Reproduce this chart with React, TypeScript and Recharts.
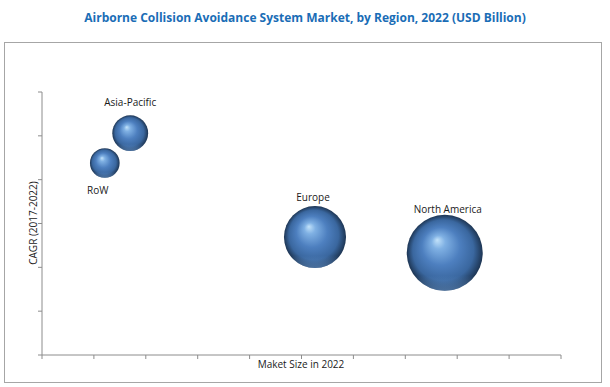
import React from 'react';
import { ScatterChart, Scatter, XAxis, YAxis, ZAxis } from 'recharts';

const regions = ['North America', 'Europe', 'Asia-Pacific', 'RoW'];
const marketSize = [7.76, 5.26, 1.7, 1.21];
const cagr = [2.33, 2.69, 5.06, 4.38];
const bubbleSize = [1.44, 0.96, 0.32, 0.22];
const xTicks = [0, 1, 2, 3, 4, 5, 6, 7, 8, 9, 10];
const yTicks = [0, 1, 2, 3, 4, 5, 6];

const data = regions.map((region, i) => ({
  region,
  x: marketSize[i],
  y: cagr[i],
  z: bubbleSize[i],
}));

const labelPlacement: Record<string, { dx: number; gap: number; below: boolean }> = {
  'North America': { dx: 3, gap: 2, below: false },
  Europe: { dx: -2, gap: 5, below: false },
  'Asia-Pacific': { dx: 0, gap: 9, below: false },
  RoW: { dx: -7, gap: 16, below: true },
};

const FONT = '"Open Sans", "Noto Sans", sans-serif';

const Bubble = (props: any) => {
  const { cx, cy, width, payload } = props;
  const r = width / 2;
  const lp = labelPlacement[payload.region] || { dx: 0, gap: 5, below: false };
  const ty = lp.below ? cy + r + lp.gap : cy - r - lp.gap;
  return (
    <g>
      <circle cx={cx} cy={cy} r={r} fill="url(#sphereGrad)" />
      <circle cx={cx} cy={cy} r={r} fill="url(#rimGrad)" />
      <text
        x={cx + lp.dx}
        y={ty}
        textAnchor="middle"
        fontFamily={FONT}
        fontSize={10}
        fill="#1a1a1a"
      >
        {payload.region}
      </text>
    </g>
  );
};

export default function App() {
  return (
    <div style={{ position: 'absolute', left: 0, top: 0, width: 610, height: 387, background: '#fff' }}>
      <div
        style={{
          position: 'absolute',
          left: 0,
          top: 9,
          width: 610,
          textAlign: 'center',
          fontFamily: FONT,
          fontWeight: 700,
          fontSize: 12,
          color: '#1A6DB6',
          whiteSpace: 'nowrap',
        }}
      >
        Airborne Collision Avoidance System Market, by Region, 2022 (USD Billion)
      </div>
      <div
        style={{
          position: 'absolute',
          left: 4,
          top: 42,
          width: 596,
          height: 339,
          border: '1px solid #A6A6A6',
        }}
      />
      <div style={{ position: 'absolute', left: 0, top: 0 }}>
        <ScatterChart width={610} height={387} margin={{ top: 92, right: 49, bottom: 22, left: 32 }}>
          <defs>
            <radialGradient id="sphereGrad" cx="50%" cy="50%" r="50%" fx="40%" fy="33%">
              <stop offset="0%" stopColor="#C2E2FA" />
              <stop offset="18%" stopColor="#7FB0E3" />
              <stop offset="50%" stopColor="#4D7FBF" />
              <stop offset="80%" stopColor="#3A679F" />
              <stop offset="100%" stopColor="#1D3553" />
            </radialGradient>
            <linearGradient id="rimGrad" x1="0" y1="0" x2="0" y2="1">
              <stop offset="80%" stopColor="#6FA0DA" stopOpacity={0} />
              <stop offset="100%" stopColor="#6FA0DA" stopOpacity={0.55} />
            </linearGradient>
          </defs>
          <XAxis
            type="number"
            dataKey="x"
            domain={[0, 10]}
            ticks={xTicks}
            tickFormatter={() => ''}
            height={10}
            tickSize={4}
            stroke="#8C8C8C"
            axisLine={{ stroke: '#8C8C8C' }}
            tickLine={{ stroke: '#8C8C8C' }}
          />
          <YAxis
            type="number"
            dataKey="y"
            domain={[0, 6]}
            ticks={yTicks}
            tickFormatter={() => ''}
            width={10}
            tickSize={4}
            stroke="#8C8C8C"
            axisLine={{ stroke: '#8C8C8C' }}
            tickLine={{ stroke: '#8C8C8C' }}
          />
          <ZAxis type="number" dataKey="z" domain={[0, 1.44]} range={[0, 4536]} />
          <Scatter data={data} shape={<Bubble />} isAnimationActive={false} />
        </ScatterChart>
      </div>
      <div
        style={{
          position: 'absolute',
          left: 201,
          top: 357,
          width: 200,
          textAlign: 'center',
          fontFamily: FONT,
          fontSize: 10,
          color: '#1a1a1a',
          whiteSpace: 'nowrap',
        }}
      >
        Maket Size in 2022
      </div>
      <div
        style={{
          position: 'absolute',
          left: 33 - 60,
          top: 223 - 8,
          width: 120,
          height: 16,
          lineHeight: '16px',
          textAlign: 'center',
          fontFamily: FONT,
          fontSize: 10,
          color: '#1a1a1a',
          whiteSpace: 'nowrap',
          transform: 'rotate(-90deg)',
        }}
      >
        CAGR (2017-2022)
      </div>
    </div>
  );
}
